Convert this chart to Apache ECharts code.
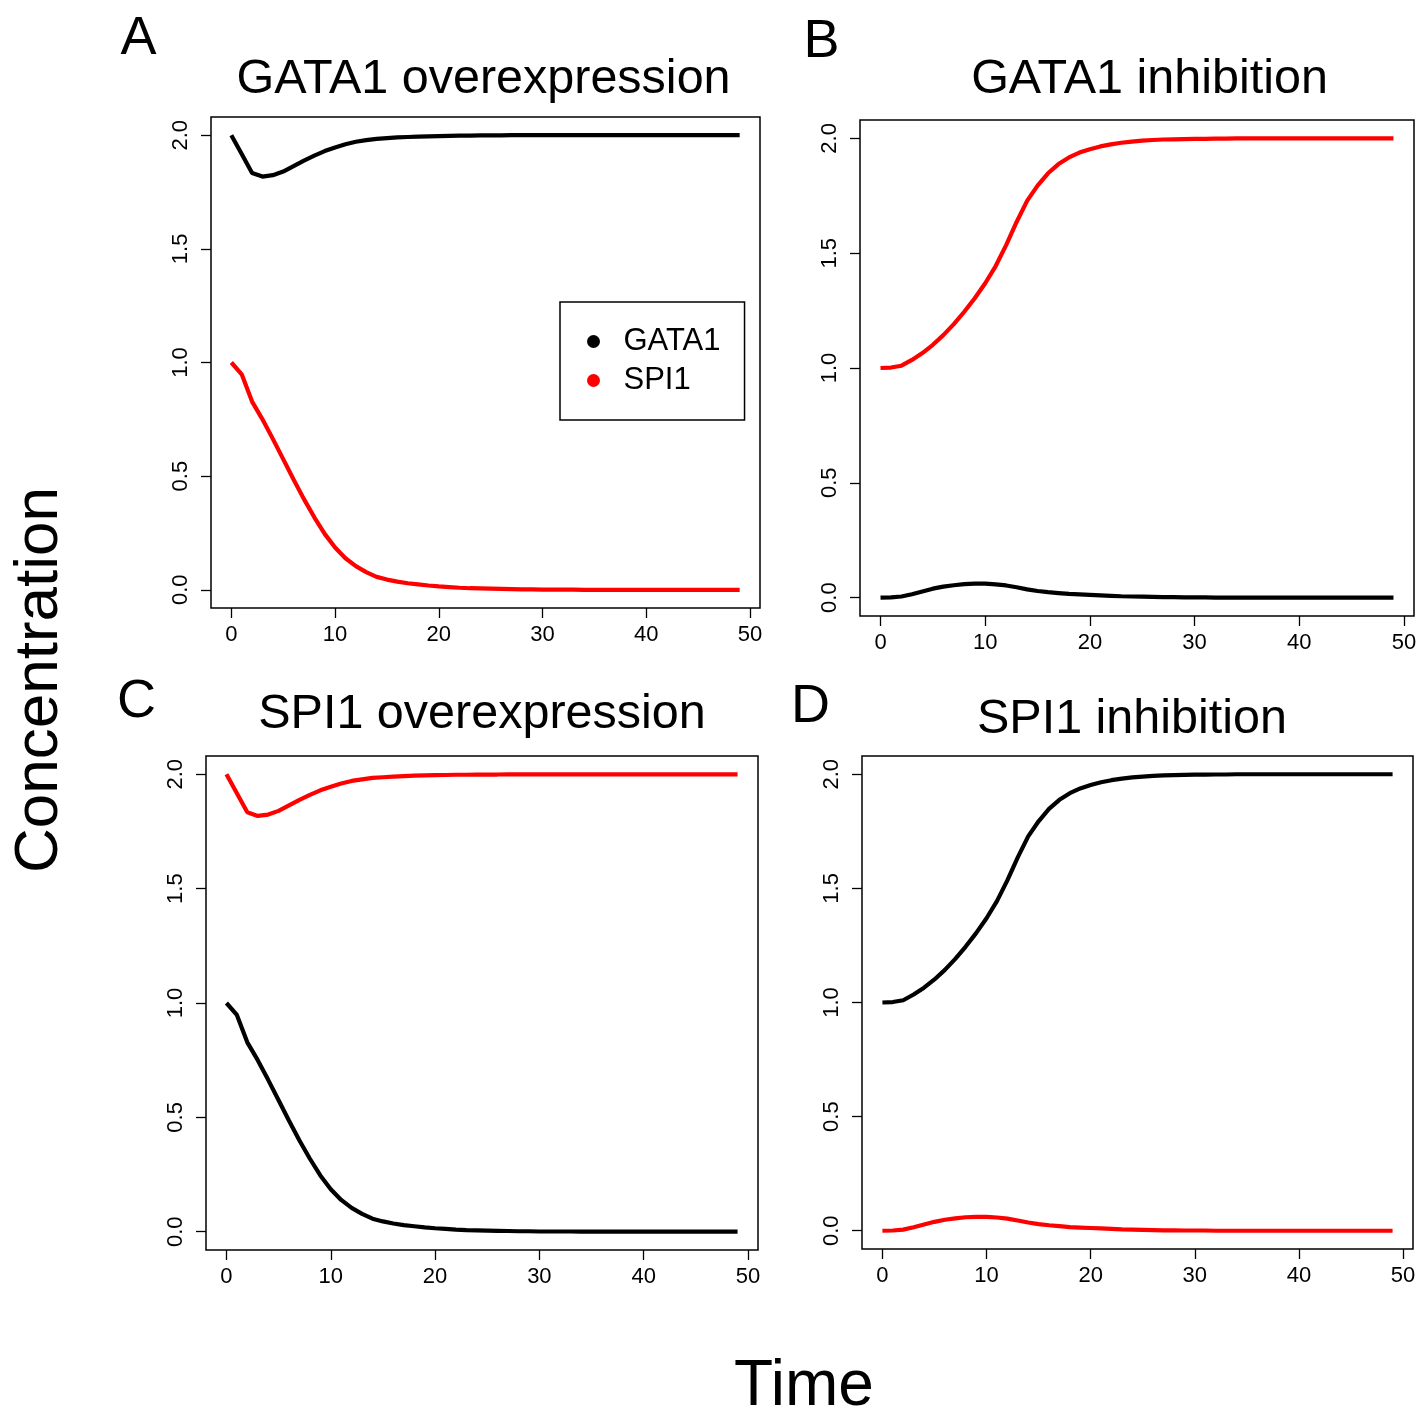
<!DOCTYPE html>
<html><head><meta charset="utf-8">
<script src="https://cdn.jsdelivr.net/npm/echarts@6/dist/echarts.min.js"></script>
<style>html,body{margin:0;padding:0;background:#fff}#c{width:1423px;height:1427px}</style>
</head><body><div id="c"></div>
<script>
// ---- data ----
const time = [0,1,2,3,4,5,6,7,8,9,10,11,12,13,14,15,16,17,18,19,20,21,22,23,24,25,26,27,28,29,30,31,32,33,34,35,36,37,38,39,40,41,42,43,44,45,46,47,48,49];

// overexpressed gene (stays high) – GATA1 in A, SPI1 in C
const overHigh = [2.000,1.917,1.834,1.818,1.824,1.840,1.864,1.888,1.910,1.930,1.946,1.960,1.971,1.978,1.984,1.987,1.990,1.992,1.994,1.995,1.996,1.997,1.998,1.998,1.999,1.999,1.999,2.000,2.000,2.000,2.000,2.000,2.000,2.000,2.000,2.000,2.000,2.000,2.000,2.000,2.000,2.000,2.000,2.000,2.000,2.000,2.000,2.000,2.000,2.000];
// repressed partner gene (decays) – SPI1 in A, GATA1 in C
const overLow = [1.000,0.948,0.828,0.750,0.664,0.575,0.485,0.399,0.319,0.246,0.186,0.139,0.104,0.078,0.057,0.045,0.036,0.029,0.024,0.019,0.015,0.012,0.009,0.007,0.006,0.005,0.004,0.003,0.002,0.002,0.001,0.001,0.001,0.001,0.000,0.000,0.000,0.000,0.000,0.000,0.000,0.000,0.000,0.000,0.000,0.000,0.000,0.000,0.000,0.000];
// partner gene rising under inhibition – SPI1 in B, GATA1 in D
const inhibRise = [1.000,1.002,1.010,1.035,1.065,1.101,1.143,1.191,1.245,1.304,1.369,1.444,1.535,1.636,1.728,1.794,1.848,1.888,1.917,1.938,1.953,1.965,1.974,1.981,1.986,1.990,1.993,1.995,1.996,1.997,1.998,1.998,1.999,1.999,2.000,2.000,2.000,2.000,2.000,2.000,2.000,2.000,2.000,2.000,2.000,2.000,2.000,2.000,2.000,2.000];
// inhibited gene (small transient bump) – GATA1 in B, SPI1 in D
const inhibBump = [0.000,0.001,0.005,0.015,0.027,0.039,0.048,0.054,0.059,0.061,0.061,0.058,0.053,0.045,0.036,0.029,0.024,0.020,0.016,0.014,0.012,0.010,0.008,0.006,0.005,0.004,0.003,0.002,0.002,0.001,0.001,0.001,0.000,0.000,0.000,0.000,0.000,0.000,0.000,0.000,0.000,0.000,0.000,0.000,0.000,0.000,0.000,0.000,0.000,0.000];

const xTicks = [0,10,20,30,40,50];
const yTicks = [0,0.5,1,1.5,2];
const yTickLabels = ['0.0','0.5','1.0','1.5','2.0'];
const panelTitles = ['GATA1 overexpression','GATA1 inhibition','SPI1 overexpression','SPI1 inhibition'];
const panelLetters = ['A','B','C','D'];
const seriesNames = ['GATA1','SPI1'];

// ---- layout ----
const FONT = 'Liberation Sans, Arial, Helvetica, sans-serif';
const grids = [
  {left:211, top:117, width:549, height:491},
  {left:860, top:120, width:554, height:496},
  {left:206, top:756, width:552, height:494},
  {left:862, top:756, width:551, height:493}
];
const titlePos = [[483.5,79.5],[1149.5,79.5],[482,714.5],[1132,719.5]];
const letterPos = [[138.5,39],[821.5,42],[136.5,702],[810.5,707]];

const pair = arr => time.map((t,i)=>[t,arr[i]]);
const panelData = [
  {GATA1: overHigh, SPI1: overLow},
  {GATA1: inhibBump, SPI1: inhibRise},
  {GATA1: overLow, SPI1: overHigh},
  {GATA1: inhibRise, SPI1: inhibBump}
];
const colors = {GATA1:'#000000', SPI1:'#ff0000'};

const xAxes = [], yAxes = [], series = [];
grids.forEach((g,i)=>{
  xAxes.push({type:'value', gridIndex:i, min:-1.96, max:50.96, position:'bottom',
    axisLine:{show:false, onZero:false}, splitLine:{show:false},
    axisTick:{show:true, length:10, customValues:xTicks, lineStyle:{color:'#000', width:1.3}},
    axisLabel:{customValues:xTicks, fontSize:22, color:'#000', margin:16, fontFamily:FONT}
  });
  yAxes.push({type:'value', gridIndex:i, min:-0.08, max:2.08, position:'left',
    axisLine:{show:false, onZero:false}, splitLine:{show:false},
    axisTick:{show:true, length:10, customValues:yTicks, lineStyle:{color:'#000', width:1.3}},
    axisLabel:{customValues:yTicks, rotate:90, fontSize:22, color:'#000', margin:19, fontFamily:FONT,
      formatter: v => yTickLabels[yTicks.indexOf(Math.round(v*10)/10)]}
  });
  seriesNames.forEach(n=>{
    series.push({type:'line', name:n, xAxisIndex:i, yAxisIndex:i, data:pair(panelData[i][n]),
      showSymbol:false, symbol:'none', smooth:false,
      lineStyle:{color:colors[n], width:4.2}, itemStyle:{color:colors[n]}, z: 3});
  });
});

const graphics = [];
panelTitles.forEach((t,i)=>{
  graphics.push({type:'text', x:titlePos[i][0], y:titlePos[i][1],
    style:{text:t, fontSize:48.5, fontFamily:FONT, fill:'#000', textAlign:'center', textVerticalAlign:'middle'}});
  graphics.push({type:'text', x:letterPos[i][0], y:letterPos[i][1],
    style:{text:panelLetters[i], fontSize:54, fontFamily:FONT, fill:'#000', textAlign:'center', textVerticalAlign:'middle'}});
});
graphics.push({type:'text', x:40, y:680, rotation:Math.PI/2,
  style:{text:'Concentration', fontSize:62, fontFamily:FONT, fill:'#000', textAlign:'center', textVerticalAlign:'middle'}});
graphics.push({type:'text', x:804, y:1387,
  style:{text:'Time', fontSize:64, fontFamily:FONT, fill:'#000', textAlign:'center', textVerticalAlign:'middle'}});

const chart = echarts.init(document.getElementById('c'));
chart.setOption({
  animation:false,
  backgroundColor:'#fff',
  grid: grids.map(g=>Object.assign({show:true, borderColor:'#000', borderWidth:1.5, backgroundColor:'transparent'}, g)),
  xAxis:xAxes, yAxis:yAxes, series:series,
  legend:{data:seriesNames, orient:'vertical', left:560, top:302, padding:[24,24,24,27],
    borderColor:'#000', borderWidth:1.5, icon:'circle', itemWidth:50, itemHeight:13, itemGap:8,
    selectedMode:false, textStyle:{fontSize:31, color:'#000', fontFamily:FONT}},
  graphic:graphics
});
</script></body></html>
